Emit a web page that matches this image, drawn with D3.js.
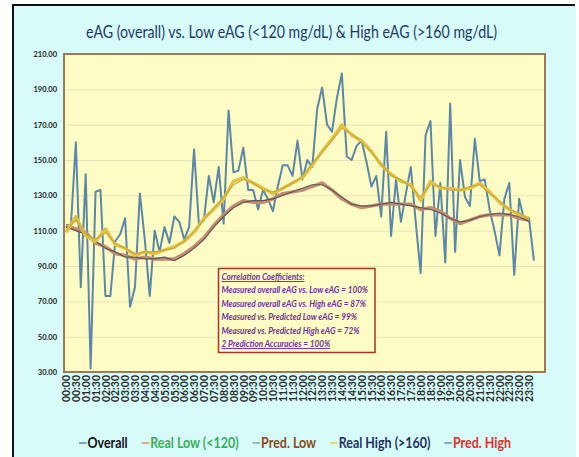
<!DOCTYPE html>
<html>
<head>
<meta charset="utf-8">
<script src="https://cdnjs.cloudflare.com/ajax/libs/d3/7.8.5/d3.min.js"></script>
<style>
body { margin: 0; background: #fff; }
svg text { font-family: Lato, "Liberation Sans", sans-serif; }
</style>
</head>
<body>
<script>
// chart data

var timeLabels = ['00:00','00:30','01:00','01:30','02:00','02:30','03:00','03:30','04:00','04:30',
	'05:00','05:30','06:00','06:30','07:00','07:30','08:00','08:30','09:00','09:30',
	'10:00','10:30','11:00','11:30','12:00','12:30','13:00','13:30','14:00','14:30',
	'15:00','15:30','16:00','16:30','17:00','17:30','18:00','18:30','19:00','19:30',
	'20:00','20:30','21:00','21:30','22:00','22:30','23:00','23:30'];

var yTicks = [30, 50, 70, 90, 110, 130, 150, 170, 190, 210];

// overall eAG, one reading every 15 minutes
var overall = [113,113,160,78,142,32,132,133,73,73,
	104,108,117,67,78,131,105,73,110,98,
	112,103,118,115,105,112,156,113,116,141,
	126,146,114,178,143,144,157,133,133,122,
	133,128,121,135,147,147,141,161,139,150,
	146,179,191,170,166,185,199,152,150,158,
	161,149,135,141,118,166,107,139,115,131,
	146,115,86,164,172,107,137,92,182,98,
	150,129,124,162,138,139,122,110,96,128,
	137,85,128,116,117,93];

// smoothed series, one value per half hour label
var realLow = [113,111,109,103,101,97,96,94,95,94,94,94,97,101,106,113,119,124,127,126,
	126,128,131,132,133,135,137,133,128,125,123,124,125,125,125,125,122,123,121,117,
	114,116,118,119,119,119,117,116];
var predLow = [112,110,108,104,100,98,95,95,94,94,95,93,96,100,105,112,118,123,126,127,
	127,128,130,132,134,136,136,133,129,125,124,124,125,126,125,124,123,122,120,117,
	115,116,118,119,120,119,118,115];
var realHigh = [109,118,107,104,111,102,100,96,98,97,99,101,104,109,117,122,128,138,140,137,
	134,131,134,137,140,147,155,162,170,164,161,155,147,142,138,136,127,138,134,134,
	133,134,137,132,126,122,119,117];
var predHigh = [110,116,108,105,109,103,100,97,98,98,99,100,104,110,116,123,129,136,139,137,
	133,132,134,137,141,148,154,161,168,165,160,154,148,141,139,135,129,136,135,133,
	133,135,136,131,127,122,120,116];

var seriesNames = ['Overall', 'Real Low (<120)', 'Pred. Low', 'Real High (>160)', 'Pred. High'];

var noteLines = ['Correlation Coefficients:',
	'Measured overall eAG vs. Low eAG = 100%',
	'Measured overall eAG vs. High eAG = 87%',
	'Measured vs. Predicted Low eAG = 99%',
	'Measured vs. Predicted High eAG = 72%',
	'2 Prediction Accuracies = 100%'];

var titleText = 'eAG (overall) vs. Low eAG (<120 mg/dL) & High eAG (>160 mg/dL)';

// layout

var W = 579, H = 457;
var plot = {left: 64, right: 545, top: 54, bottom: 372};

function toMin(s){
	var p = s.split(':');
	return (+p[0]) * 60 + (+p[1]);
}

var x = d3.scaleLinear()
	.domain([0, toMin('23:30')])
	.range([66, 529]);

var y = d3.scaleLinear()
	.domain([30, 210])
	.range([plot.bottom, plot.top]);

var svg = d3.select('body').append('svg')
	.attr('width', W)
	.attr('height', H);

svg.append('rect').attr('width', W).attr('height', H).attr('fill', '#fff');
svg.append('rect')
	.attr('x', 13).attr('y', 5)
	.attr('width', 563).attr('height', H - 5)
	.attr('fill', '#d6fbf8');
svg.append('path')
	.attr('d', 'M13,' + H + 'V5H575')
	.attr('fill', 'none')
	.attr('stroke', '#111')
	.attr('stroke-width', 2);

// title
svg.append('text')
	.attr('x', 86)
	.attr('y', 37.5)
	.attr('textLength', 411)
	.attr('lengthAdjust', 'spacingAndGlyphs')
	.style('font-size', '17px')
	.attr('fill', '#1f3864')
	.text(titleText);

// plot background
svg.append('rect')
	.attr('x', plot.left).attr('y', plot.top)
	.attr('width', plot.right - plot.left)
	.attr('height', plot.bottom - plot.top)
	.attr('fill', '#fdfcc4');

// gridlines
var grid = svg.append('g')
	.attr('transform', 'translate(' + plot.left + ',0)')
	.call(d3.axisLeft(y)
		.tickValues(yTicks.slice(1, -1))
		.tickSize(-(plot.right - plot.left))
		.tickFormat(''));
grid.select('.domain').remove();
grid.selectAll('line').attr('stroke', '#e8e3b6').attr('stroke-width', 1);

// y axis labels
var yAxis = svg.append('g')
	.attr('transform', 'translate(57,0)')
	.call(d3.axisLeft(y)
		.tickValues(yTicks)
		.tickSize(0)
		.tickPadding(0)
		.tickFormat(d3.format('.2f')));
yAxis.select('.domain').remove();
yAxis.selectAll('text')
	.style('font-size', '7.5px')
	.style('font-weight', 'bold')
	.attr('fill', '#222');

// x axis labels
var xAxis = svg.append('g')
	.attr('transform', 'translate(0,' + (plot.bottom + 3) + ')')
	.call(d3.axisBottom(x)
		.tickValues(timeLabels.map(toMin))
		.tickSize(0)
		.tickFormat(function(d, i){ return timeLabels[i]; }));
xAxis.select('.domain').remove();
xAxis.selectAll('text')
	.attr('transform', 'rotate(-90)')
	.attr('x', 0)
	.attr('y', 0)
	.attr('dx', 0)
	.attr('dy', '0.35em')
	.style('text-anchor', 'end')
	.style('font-size', '10.5px')
	.style('font-weight', 'bold')
	.attr('fill', '#2a2a2a');

// lines
var line = d3.line()
	.x(function(d){ return x(d[0]); })
	.y(function(d){ return y(d[1]); });

function halfHourly(vals){
	return vals.map(function(v, i){ return [toMin(timeLabels[i]), v]; });
}

var lines = svg.append('g').attr('id', 'line-layer');

lines.append('path')
	.datum(overall.map(function(v, i){ return [i * 15, v]; }))
	.attr('d', line)
	.attr('fill', 'none')
	.attr('stroke', '#5b87a9')
	.attr('stroke-width', 2)
	.attr('stroke-linejoin', 'round');

drawSmooth(realLow, '#c48c70', 3.4);
drawSmooth(predLow, '#5e5a58', 1.2);
drawSmooth(realHigh, '#dfc243', 3.2);
drawSmooth(predHigh, '#cca83a', 1.2);

function drawSmooth(vals, color, width){
	lines.append('path')
		.datum(halfHourly(vals))
		.attr('d', line)
		.attr('fill', 'none')
		.attr('stroke', color)
		.attr('stroke-width', width)
		.attr('stroke-linejoin', 'round');
}

// plot border
svg.append('rect')
	.attr('x', plot.left).attr('y', plot.top)
	.attr('width', plot.right - plot.left)
	.attr('height', plot.bottom - plot.top)
	.attr('fill', 'none')
	.attr('stroke', '#9c7b5a')
	.attr('stroke-width', 2);

// correlation box
var note = svg.append('g').attr('id', 'note-layer');
note.append('rect')
	.attr('x', 218.5).attr('y', 268.5)
	.attr('width', 156.5).attr('height', 84)
	.attr('fill', '#fdfcc4')
	.attr('stroke', '#a3342c')
	.attr('stroke-width', 1.5);
note.selectAll('text')
	.data(noteLines)
	.enter().append('text')
	.attr('transform', function(d, i){ return 'translate(221.5,' + (280 + i * 13.4) + ') scale(0.86,1)'; })
	.style('font-size', '9.5px')
	.style('font-style', 'italic')
	.style('font-weight', 'bold')
	.style('text-decoration', function(d, i){ return (i == 0 || i == noteLines.length - 1) ? 'underline' : 'none'; })
	.attr('fill', '#7030a0')
	.text(function(d){ return d; });

// legend
var markColors = ['#5b87a9', '#e0935c', '#9aa0a6', '#e3cf45', '#6b8fb6'];
var textColors = ['#111', '#3aae5e', '#8b4a1c', '#1f3262', '#e0302c'];
var squeeze = 0.86;

var legend = svg.append('g').attr('id', 'legend-layer');
var items = legend.selectAll('g')
	.data(seriesNames)
	.enter().append('g');
items.append('line')
	.attr('x1', 0).attr('x2', 7.5)
	.attr('y1', 0).attr('y2', 0)
	.attr('stroke', function(d, i){ return markColors[i]; })
	.attr('stroke-width', 1.5);
items.append('text')
	.attr('transform', 'translate(8.5,0) scale(' + squeeze + ',1)')
	.attr('dy', '0.36em')
	.style('font-size', '14.5px')
	.style('font-weight', 'bold')
	.attr('fill', function(d, i){ return textColors[i]; })
	.text(function(d){ return d; });

var gap = 14, total = 0, widths = [];
items.each(function(){
	var w = 8.5 + squeeze * d3.select(this).select('text').node().getComputedTextLength();
	widths.push(w);
	total += w;
});
total += gap * (seriesNames.length - 1);
var cx = 295 - total / 2;
items.attr('transform', function(d, i){
	var tx = cx;
	cx += widths[i] + gap;
	return 'translate(' + tx + ',443)';
});
</script>
</body>
</html>
